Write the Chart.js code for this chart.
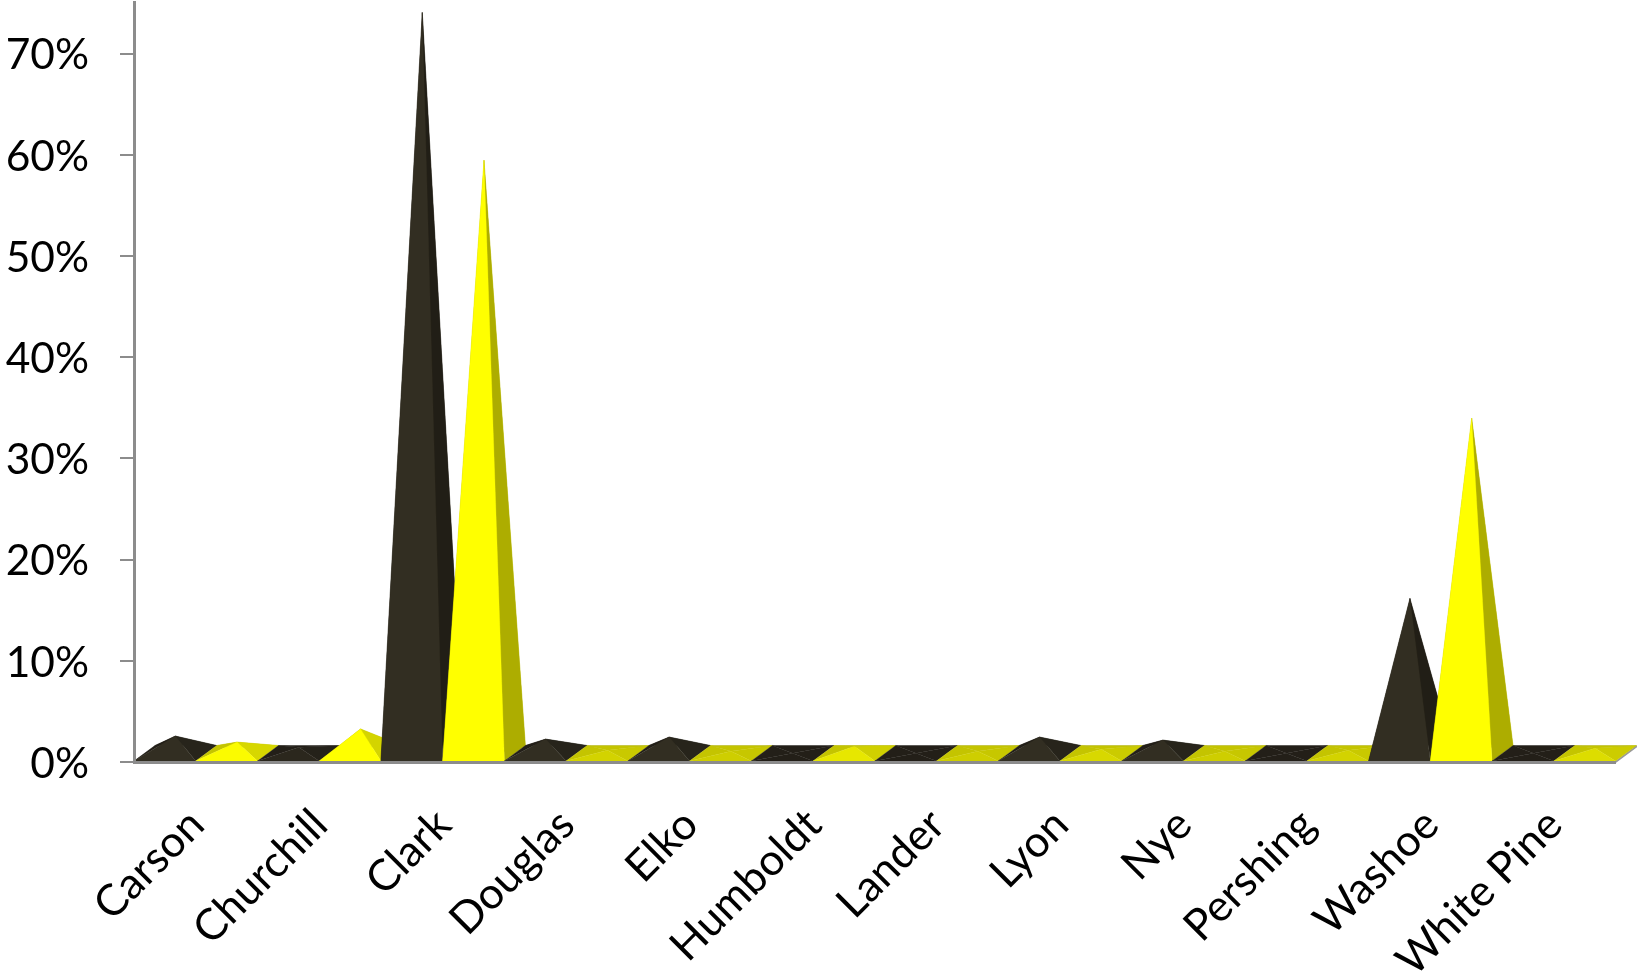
<!DOCTYPE html>
<html lang="en">
<head>
    <meta charset="UTF-8">
    <title>County shares</title>
    <style>
      * { margin: 0; padding: 0; box-sizing: border-box; }
      body { background: #fff; }
      canvas { display: block; }
    </style>
</head>
<body>
    <canvas id="myChart" width="1637" height="973"></canvas>
<script src="https://cdn.jsdelivr.net/npm/chart.js"></script>
<script>
    const counties = ['Carson', 'Churchill', 'Clark', 'Douglas', 'Elko', 'Humboldt', 'Lander', 'Lyon', 'Nye', 'Pershing', 'Washoe', 'White Pine'];
    const darkValues = [1.8, 0.7, 73.3, 1.5, 1.7, 0.1, 0.1, 1.7, 1.4, 0.1, 15.4, 0.1];
    const yellowValues = [1.2, 2.5, 58.7, 0.4, 0.3, 0.8, 0.3, 0.5, 0.3, 0.4, 33.2, 0.6];

    // floor depth of the fake 3D box, in pixels
    const depthX = 21;
    const depthY = 15.5;

    const darkShades = { front: [50, 46, 34], right: [33, 30, 22], mid: [39, 36, 27], low: [35, 31, 24] };
    const yellowShades = { front: [255, 255, 0], right: [173, 173, 0], mid: [216, 216, 0], low: [196, 196, 0] };

    function rgb(c) {
        return 'rgb(' + c.map(Math.round).join(',') + ')';
    }

    function mix(a, b, t) {
        return a.map((v, i) => v + (b[i] - v) * Math.min(1, t));
    }

    function face(ctx, color, points) {
        ctx.fillStyle = color;
        ctx.strokeStyle = color;
        ctx.lineWidth = 0.3;
        ctx.beginPath();
        points.forEach((p, i) => (i ? ctx.lineTo(p[0], p[1]) : ctx.moveTo(p[0], p[1])));
        ctx.closePath();
        ctx.fill();
        ctx.stroke();
    }

    // Draws each bar element as a four sided pyramid standing on the floor
    function drawPyramid(ctx, bar, shades) {
        const x0 = bar.x - bar.width / 2;
        const x1 = bar.x + bar.width / 2;
        const base = bar.base;
        const back = base - depthY;
        const apex = [bar.x + depthX / 2, bar.y - depthY / 2];

        // flat pyramids catch the light like the floor, tall ones show full colour
        const h = base - bar.y;
        const front = mix(shades.low, shades.front, h / 12);
        const right = h < 12 ? mix(shades.low, shades.mid, h / 12) : mix(shades.mid, shades.right, (h - 12) / 150);

        face(ctx, rgb(shades.low), [[x0 + depthX, back], [x1 + depthX, back], apex]);
        face(ctx, rgb(shades.low), [[x0, base], [x0 + depthX, back], apex]);
        face(ctx, rgb(right), [[x1, base], [x1 + depthX, back], apex]);
        face(ctx, rgb(front), [[x0, base], [x1, base], apex]);
    }

    const pyramids = {
        id: 'pyramids',
        afterDatasetsDraw(chart) {
            const ctx = chart.ctx;
            const area = chart.chartArea;
            const metas = [chart.getDatasetMeta(0), chart.getDatasetMeta(1)];
            const shades = [darkShades, yellowShades];

            ctx.save();
            // floor outline behind the pyramids
            ctx.strokeStyle = '#9a9a9a';
            ctx.lineWidth = 2;
            ctx.beginPath();
            ctx.moveTo(area.left, area.bottom);
            ctx.lineTo(area.left + depthX, area.bottom - depthY);
            ctx.lineTo(area.right + depthX, area.bottom - depthY);
            ctx.lineTo(area.right, area.bottom);
            ctx.stroke();

            counties.forEach((name, i) => {
                metas.forEach((meta, s) => drawPyramid(ctx, meta.data[i], shades[s]));
            });
            ctx.restore();
        }
    };

    // fixed axis boxes, without the room chart.js keeps for the outer labels
    function fixBox(scale, size) {
        if (scale.isHorizontal()) scale.height = size;
        else scale.width = size;
        scale.paddingTop = 0;
        scale.paddingBottom = 0;
        scale.paddingLeft = 0;
        scale.paddingRight = 0;
    }

    new Chart(document.getElementById('myChart').getContext('2d'), {
        type: 'bar',
        data: {
            labels: counties,
            datasets: [
                { label: 'Dark', data: darkValues, backgroundColor: 'transparent' },
                { label: 'Yellow', data: yellowValues, backgroundColor: 'transparent' }
            ]
        },
        options: {
            responsive: false,
            animation: false,
            layout: { padding: { top: 2, right: 21.5 } },
            categoryPercentage: 1,
            barPercentage: 1,
            plugins: { legend: { display: false }, tooltip: { enabled: false } },
            scales: {
                x: {
                    afterFit(scale) { fixBox(scale, 211); },
                    grid: { display: false },
                    border: { color: '#8c8c8c', width: 3, z: 1 },
                    ticks: {
                        autoSkip: false,
                        maxRotation: 45,
                        minRotation: 45,
                        padding: 29,
                        labelOffset: 1,
                        color: '#000',
                        font: { family: 'Lato', size: 43.5 }
                    }
                },
                y: {
                    min: 0,
                    max: 75.1,
                    afterFit(scale) { fixBox(scale, 134); },
                    grid: { drawOnChartArea: false, color: '#8c8c8c', lineWidth: 2, tickLength: 14 },
                    border: { color: '#8c8c8c', width: 3, z: 1 },
                    ticks: {
                        stepSize: 10,
                        includeBounds: false,
                        padding: 31,
                        labelOffset: 2,
                        color: '#000',
                        font: { family: 'Lato', size: 42.5 },
                        callback: (v) => v + '%'
                    }
                }
            }
        },
        plugins: [pyramids]
    });
</script>
</body>
</html>
